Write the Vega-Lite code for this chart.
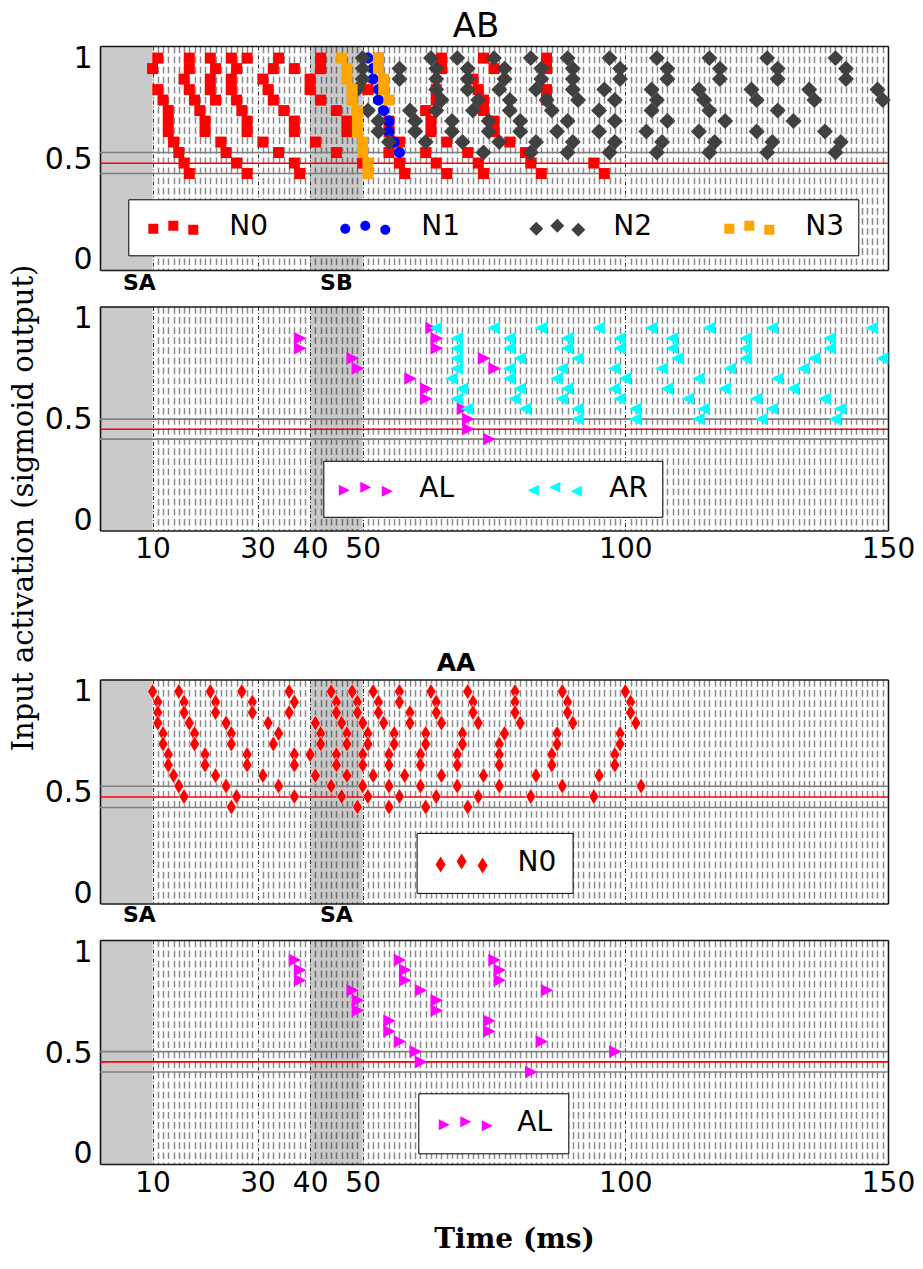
{
"$schema":"https://vega.github.io/schema/vega-lite/v6.json",
"background":"white",
"padding":{"left":8,"top":10,"right":0,"bottom":0},
"config":{"view":{"stroke":null},"font":"DejaVu Sans","axis":{"labelColor":"black","tickColor":"black","labelFont":"DejaVu Sans","domainColor":"#1a1a1a","domainWidth":1.6},"title":{"color":"black","font":"DejaVu Sans"}},
"datasets":{
"stim_ab":[{"stim":"SA","start":0,"end":10,"label_t":7.5},{"stim":"SB","start":40,"end":50,"label_t":45}],
"stim_aa":[{"stim":"SA","start":0,"end":10,"label_t":7.5},{"stim":"SA","start":40,"end":50,"label_t":45}],
"thr_ab1":[{"level":0.479,"kind":"threshold"},{"level":0.532,"kind":"bound"},{"level":0.428,"kind":"bound"}],
"thr_ab2":[{"level":0.452,"kind":"threshold"},{"level":0.502,"kind":"bound"},{"level":0.403,"kind":"bound"}],
"thr_aa1":[{"level":0.478,"kind":"threshold"},{"level":0.531,"kind":"bound"},{"level":0.426,"kind":"bound"}],
"thr_aa2":[{"level":0.456,"kind":"threshold"},{"level":0.507,"kind":"bound"},{"level":0.406,"kind":"bound"}],
"ab_neurons":[
{"time":11,"act":1,"series":"N0"},{"time":17,"act":1,"series":"N0"},{"time":21,"act":1,"series":"N0"},{"time":25,"act":1,"series":"N0"},{"time":28,"act":1,"series":"N0"},{"time":34,"act":1,"series":"N0"},{"time":42,"act":1,"series":"N0"},{"time":53,"act":1,"series":"N0"},{"time":65,"act":1,"series":"N0"},{"time":73,"act":1,"series":"N0"},{"time":85,"act":1,"series":"N0"},
{"time":10,"act":0.948,"series":"N0"},{"time":17,"act":0.948,"series":"N0"},{"time":22,"act":0.948,"series":"N0"},{"time":26,"act":0.948,"series":"N0"},{"time":33,"act":0.948,"series":"N0"},{"time":37,"act":0.948,"series":"N0"},{"time":42,"act":0.948,"series":"N0"},{"time":53,"act":0.948,"series":"N0"},{"time":65,"act":0.948,"series":"N0"},{"time":75,"act":0.948,"series":"N0"},{"time":85,"act":0.948,"series":"N0"},
{"time":16,"act":0.896,"series":"N0"},{"time":21,"act":0.896,"series":"N0"},{"time":25,"act":0.896,"series":"N0"},{"time":31,"act":0.896,"series":"N0"},{"time":40,"act":0.896,"series":"N0"},{"time":71,"act":0.896,"series":"N0"},
{"time":11,"act":0.844,"series":"N0"},{"time":17,"act":0.844,"series":"N0"},{"time":21,"act":0.844,"series":"N0"},{"time":25,"act":0.844,"series":"N0"},{"time":32,"act":0.844,"series":"N0"},{"time":40,"act":0.844,"series":"N0"},{"time":51,"act":0.844,"series":"N0"},{"time":64,"act":0.844,"series":"N0"},{"time":72,"act":0.844,"series":"N0"},{"time":85,"act":0.844,"series":"N0"},
{"time":12,"act":0.792,"series":"N0"},{"time":18,"act":0.792,"series":"N0"},{"time":22,"act":0.792,"series":"N0"},{"time":26,"act":0.792,"series":"N0"},{"time":33,"act":0.792,"series":"N0"},{"time":42,"act":0.792,"series":"N0"},{"time":64,"act":0.792,"series":"N0"},{"time":73,"act":0.792,"series":"N0"},{"time":85,"act":0.792,"series":"N0"},
{"time":13,"act":0.74,"series":"N0"},{"time":19,"act":0.74,"series":"N0"},{"time":27,"act":0.74,"series":"N0"},{"time":35,"act":0.74,"series":"N0"},{"time":45,"act":0.74,"series":"N0"},{"time":62,"act":0.74,"series":"N0"},{"time":73,"act":0.74,"series":"N0"},
{"time":13,"act":0.688,"series":"N0"},{"time":20,"act":0.688,"series":"N0"},{"time":28,"act":0.688,"series":"N0"},{"time":37,"act":0.688,"series":"N0"},{"time":47,"act":0.688,"series":"N0"},{"time":55,"act":0.688,"series":"N0"},{"time":63,"act":0.688,"series":"N0"},{"time":75,"act":0.688,"series":"N0"},
{"time":13,"act":0.636,"series":"N0"},{"time":20,"act":0.636,"series":"N0"},{"time":28,"act":0.636,"series":"N0"},{"time":37,"act":0.636,"series":"N0"},{"time":47,"act":0.636,"series":"N0"},{"time":55,"act":0.636,"series":"N0"},{"time":63,"act":0.636,"series":"N0"},{"time":75,"act":0.636,"series":"N0"},
{"time":14,"act":0.584,"series":"N0"},{"time":23,"act":0.584,"series":"N0"},{"time":31,"act":0.584,"series":"N0"},{"time":41,"act":0.584,"series":"N0"},{"time":57,"act":0.584,"series":"N0"},{"time":66,"act":0.584,"series":"N0"},{"time":78,"act":0.584,"series":"N0"},
{"time":15,"act":0.532,"series":"N0"},{"time":24,"act":0.532,"series":"N0"},{"time":34,"act":0.532,"series":"N0"},{"time":45,"act":0.532,"series":"N0"},{"time":55,"act":0.532,"series":"N0"},{"time":62,"act":0.532,"series":"N0"},{"time":70,"act":0.532,"series":"N0"},{"time":81,"act":0.532,"series":"N0"},
{"time":16,"act":0.48,"series":"N0"},{"time":26,"act":0.48,"series":"N0"},{"time":37,"act":0.48,"series":"N0"},{"time":50,"act":0.48,"series":"N0"},{"time":57,"act":0.48,"series":"N0"},{"time":64,"act":0.48,"series":"N0"},{"time":72,"act":0.48,"series":"N0"},{"time":82,"act":0.48,"series":"N0"},{"time":94,"act":0.48,"series":"N0"},
{"time":17,"act":0.428,"series":"N0"},{"time":28,"act":0.428,"series":"N0"},{"time":38,"act":0.428,"series":"N0"},{"time":58,"act":0.428,"series":"N0"},{"time":66,"act":0.428,"series":"N0"},{"time":73,"act":0.428,"series":"N0"},{"time":84,"act":0.428,"series":"N0"},{"time":96,"act":0.428,"series":"N0"},
{"time":51,"act":1,"series":"N1"},{"time":52,"act":0.948,"series":"N1"},{"time":52,"act":0.896,"series":"N1"},{"time":53,"act":0.844,"series":"N1"},{"time":53,"act":0.792,"series":"N1"},{"time":54,"act":0.74,"series":"N1"},{"time":55,"act":0.688,"series":"N1"},{"time":55,"act":0.636,"series":"N1"},{"time":56,"act":0.584,"series":"N1"},{"time":57,"act":0.532,"series":"N1"},
{"time":50,"act":1,"series":"N2"},{"time":63,"act":1,"series":"N2"},{"time":68,"act":1,"series":"N2"},{"time":75,"act":1,"series":"N2"},{"time":82,"act":1,"series":"N2"},{"time":89,"act":1,"series":"N2"},{"time":97,"act":1,"series":"N2"},{"time":106,"act":1,"series":"N2"},{"time":116,"act":1,"series":"N2"},{"time":127,"act":1,"series":"N2"},{"time":140,"act":1,"series":"N2"},
{"time":50,"act":0.948,"series":"N2"},{"time":57,"act":0.948,"series":"N2"},{"time":64,"act":0.948,"series":"N2"},{"time":70,"act":0.948,"series":"N2"},{"time":77,"act":0.948,"series":"N2"},{"time":84,"act":0.948,"series":"N2"},{"time":90,"act":0.948,"series":"N2"},{"time":99,"act":0.948,"series":"N2"},{"time":108,"act":0.948,"series":"N2"},{"time":118,"act":0.948,"series":"N2"},{"time":129,"act":0.948,"series":"N2"},{"time":142,"act":0.948,"series":"N2"},
{"time":50,"act":0.896,"series":"N2"},{"time":57,"act":0.896,"series":"N2"},{"time":64,"act":0.896,"series":"N2"},{"time":70,"act":0.896,"series":"N2"},{"time":77,"act":0.896,"series":"N2"},{"time":84,"act":0.896,"series":"N2"},{"time":90,"act":0.896,"series":"N2"},{"time":99,"act":0.896,"series":"N2"},{"time":108,"act":0.896,"series":"N2"},{"time":118,"act":0.896,"series":"N2"},{"time":129,"act":0.896,"series":"N2"},{"time":142,"act":0.896,"series":"N2"},
{"time":49,"act":0.844,"series":"N2"},{"time":64,"act":0.844,"series":"N2"},{"time":70,"act":0.844,"series":"N2"},{"time":76,"act":0.844,"series":"N2"},{"time":83,"act":0.844,"series":"N2"},{"time":90,"act":0.844,"series":"N2"},{"time":96,"act":0.844,"series":"N2"},{"time":105,"act":0.844,"series":"N2"},{"time":114,"act":0.844,"series":"N2"},{"time":124,"act":0.844,"series":"N2"},{"time":135,"act":0.844,"series":"N2"},{"time":148,"act":0.844,"series":"N2"},
{"time":65,"act":0.792,"series":"N2"},{"time":72,"act":0.792,"series":"N2"},{"time":78,"act":0.792,"series":"N2"},{"time":85,"act":0.792,"series":"N2"},{"time":91,"act":0.792,"series":"N2"},{"time":98,"act":0.792,"series":"N2"},{"time":106,"act":0.792,"series":"N2"},{"time":115,"act":0.792,"series":"N2"},{"time":125,"act":0.792,"series":"N2"},{"time":136,"act":0.792,"series":"N2"},{"time":149,"act":0.792,"series":"N2"},
{"time":51,"act":0.74,"series":"N2"},{"time":59,"act":0.74,"series":"N2"},{"time":64,"act":0.74,"series":"N2"},{"time":71,"act":0.74,"series":"N2"},{"time":78,"act":0.74,"series":"N2"},{"time":86,"act":0.74,"series":"N2"},{"time":95,"act":0.74,"series":"N2"},{"time":105,"act":0.74,"series":"N2"},{"time":116,"act":0.74,"series":"N2"},{"time":129,"act":0.74,"series":"N2"},
{"time":53,"act":0.688,"series":"N2"},{"time":60,"act":0.688,"series":"N2"},{"time":67,"act":0.688,"series":"N2"},{"time":74,"act":0.688,"series":"N2"},{"time":80,"act":0.688,"series":"N2"},{"time":89,"act":0.688,"series":"N2"},{"time":98,"act":0.688,"series":"N2"},{"time":108,"act":0.688,"series":"N2"},{"time":119,"act":0.688,"series":"N2"},{"time":132,"act":0.688,"series":"N2"},
{"time":53,"act":0.636,"series":"N2"},{"time":60,"act":0.636,"series":"N2"},{"time":67,"act":0.636,"series":"N2"},{"time":74,"act":0.636,"series":"N2"},{"time":80,"act":0.636,"series":"N2"},{"time":87,"act":0.636,"series":"N2"},{"time":95,"act":0.636,"series":"N2"},{"time":104,"act":0.636,"series":"N2"},{"time":114,"act":0.636,"series":"N2"},{"time":125,"act":0.636,"series":"N2"},{"time":138,"act":0.636,"series":"N2"},
{"time":55,"act":0.584,"series":"N2"},{"time":62,"act":0.584,"series":"N2"},{"time":69,"act":0.584,"series":"N2"},{"time":76,"act":0.584,"series":"N2"},{"time":83,"act":0.584,"series":"N2"},{"time":90,"act":0.584,"series":"N2"},{"time":98,"act":0.584,"series":"N2"},{"time":107,"act":0.584,"series":"N2"},{"time":117,"act":0.584,"series":"N2"},{"time":128,"act":0.584,"series":"N2"},{"time":141,"act":0.584,"series":"N2"},
{"time":73,"act":0.532,"series":"N2"},{"time":82,"act":0.532,"series":"N2"},{"time":89,"act":0.532,"series":"N2"},{"time":97,"act":0.532,"series":"N2"},{"time":106,"act":0.532,"series":"N2"},{"time":116,"act":0.532,"series":"N2"},{"time":127,"act":0.532,"series":"N2"},{"time":140,"act":0.532,"series":"N2"},
{"time":46,"act":1,"series":"N3"},{"time":47,"act":0.948,"series":"N3"},{"time":47,"act":0.896,"series":"N3"},{"time":48,"act":0.844,"series":"N3"},{"time":48,"act":0.792,"series":"N3"},{"time":49,"act":0.74,"series":"N3"},{"time":49,"act":0.688,"series":"N3"},{"time":49,"act":0.636,"series":"N3"},{"time":50,"act":0.584,"series":"N3"},{"time":50,"act":0.532,"series":"N3"},{"time":51,"act":0.48,"series":"N3"},{"time":51,"act":0.428,"series":"N3"},{"time":53,"act":1,"series":"N3"},{"time":53,"act":0.948,"series":"N3"},{"time":54,"act":0.896,"series":"N3"},{"time":54,"act":0.844,"series":"N3"},{"time":55,"act":0.792,"series":"N3"}
],
"ab_actions":[
{"time":38,"act":0.903,"series":"AL"},{"time":38,"act":0.853,"series":"AL"},{"time":48,"act":0.803,"series":"AL"},{"time":49,"act":0.753,"series":"AL"},{"time":59,"act":0.703,"series":"AL"},{"time":62,"act":0.653,"series":"AL"},{"time":62,"act":0.603,"series":"AL"},{"time":63,"act":0.953,"series":"AL"},{"time":64,"act":0.903,"series":"AL"},{"time":64,"act":0.853,"series":"AL"},{"time":69,"act":0.553,"series":"AL"},{"time":70,"act":0.503,"series":"AL"},{"time":70,"act":0.453,"series":"AL"},{"time":73,"act":0.803,"series":"AL"},{"time":75,"act":0.753,"series":"AL"},{"time":74,"act":0.403,"series":"AL"},
{"time":64,"act":0.953,"series":"AR"},{"time":75,"act":0.953,"series":"AR"},{"time":84,"act":0.953,"series":"AR"},{"time":95,"act":0.953,"series":"AR"},{"time":105,"act":0.953,"series":"AR"},{"time":116,"act":0.953,"series":"AR"},{"time":128,"act":0.953,"series":"AR"},{"time":147,"act":0.953,"series":"AR"},
{"time":68,"act":0.903,"series":"AR"},{"time":78,"act":0.903,"series":"AR"},{"time":89,"act":0.903,"series":"AR"},{"time":99,"act":0.903,"series":"AR"},{"time":109,"act":0.903,"series":"AR"},{"time":123,"act":0.903,"series":"AR"},{"time":139,"act":0.903,"series":"AR"},
{"time":68,"act":0.853,"series":"AR"},{"time":78,"act":0.853,"series":"AR"},{"time":89,"act":0.853,"series":"AR"},{"time":99,"act":0.853,"series":"AR"},{"time":109,"act":0.853,"series":"AR"},{"time":123,"act":0.853,"series":"AR"},{"time":139,"act":0.853,"series":"AR"},
{"time":68,"act":0.803,"series":"AR"},{"time":80,"act":0.803,"series":"AR"},{"time":91,"act":0.803,"series":"AR"},{"time":110,"act":0.803,"series":"AR"},{"time":123,"act":0.803,"series":"AR"},{"time":136,"act":0.803,"series":"AR"},{"time":149,"act":0.803,"series":"AR"},
{"time":68,"act":0.753,"series":"AR"},{"time":78,"act":0.753,"series":"AR"},{"time":88,"act":0.753,"series":"AR"},{"time":98,"act":0.753,"series":"AR"},{"time":107,"act":0.753,"series":"AR"},{"time":120,"act":0.753,"series":"AR"},{"time":134,"act":0.753,"series":"AR"},
{"time":67,"act":0.703,"series":"AR"},{"time":78,"act":0.703,"series":"AR"},{"time":87,"act":0.703,"series":"AR"},{"time":100,"act":0.703,"series":"AR"},{"time":114,"act":0.703,"series":"AR"},{"time":129,"act":0.703,"series":"AR"},
{"time":69,"act":0.653,"series":"AR"},{"time":80,"act":0.653,"series":"AR"},{"time":89,"act":0.653,"series":"AR"},{"time":98,"act":0.653,"series":"AR"},{"time":108,"act":0.653,"series":"AR"},{"time":119,"act":0.653,"series":"AR"},{"time":132,"act":0.653,"series":"AR"},
{"time":68,"act":0.603,"series":"AR"},{"time":79,"act":0.603,"series":"AR"},{"time":88,"act":0.603,"series":"AR"},{"time":99,"act":0.603,"series":"AR"},{"time":112,"act":0.603,"series":"AR"},{"time":125,"act":0.603,"series":"AR"},{"time":138,"act":0.603,"series":"AR"},
{"time":70,"act":0.553,"series":"AR"},{"time":81,"act":0.553,"series":"AR"},{"time":91,"act":0.553,"series":"AR"},{"time":102,"act":0.553,"series":"AR"},{"time":115,"act":0.553,"series":"AR"},{"time":128,"act":0.553,"series":"AR"},{"time":141,"act":0.553,"series":"AR"},
{"time":91,"act":0.503,"series":"AR"},{"time":102,"act":0.503,"series":"AR"},{"time":114,"act":0.503,"series":"AR"},{"time":126,"act":0.503,"series":"AR"},{"time":140,"act":0.503,"series":"AR"}
],
"aa_neurons":[
{"time":10,"act":1,"series":"N0"},{"time":15,"act":1,"series":"N0"},{"time":21,"act":1,"series":"N0"},{"time":27,"act":1,"series":"N0"},{"time":36,"act":1,"series":"N0"},{"time":44,"act":1,"series":"N0"},{"time":48,"act":1,"series":"N0"},{"time":52,"act":1,"series":"N0"},{"time":57,"act":1,"series":"N0"},{"time":63,"act":1,"series":"N0"},{"time":70,"act":1,"series":"N0"},{"time":79,"act":1,"series":"N0"},{"time":88,"act":1,"series":"N0"},{"time":100,"act":1,"series":"N0"},
{"time":11,"act":0.948,"series":"N0"},{"time":16,"act":0.948,"series":"N0"},{"time":22,"act":0.948,"series":"N0"},{"time":29,"act":0.948,"series":"N0"},{"time":37,"act":0.948,"series":"N0"},{"time":45,"act":0.948,"series":"N0"},{"time":49,"act":0.948,"series":"N0"},{"time":53,"act":0.948,"series":"N0"},{"time":57,"act":0.948,"series":"N0"},{"time":64,"act":0.948,"series":"N0"},{"time":71,"act":0.948,"series":"N0"},{"time":79,"act":0.948,"series":"N0"},{"time":89,"act":0.948,"series":"N0"},{"time":101,"act":0.948,"series":"N0"},
{"time":11,"act":0.896,"series":"N0"},{"time":16,"act":0.896,"series":"N0"},{"time":22,"act":0.896,"series":"N0"},{"time":29,"act":0.896,"series":"N0"},{"time":36,"act":0.896,"series":"N0"},{"time":45,"act":0.896,"series":"N0"},{"time":49,"act":0.896,"series":"N0"},{"time":53,"act":0.896,"series":"N0"},{"time":59,"act":0.896,"series":"N0"},{"time":64,"act":0.896,"series":"N0"},{"time":71,"act":0.896,"series":"N0"},{"time":79,"act":0.896,"series":"N0"},{"time":89,"act":0.896,"series":"N0"},{"time":101,"act":0.896,"series":"N0"},
{"time":11,"act":0.844,"series":"N0"},{"time":17,"act":0.844,"series":"N0"},{"time":24,"act":0.844,"series":"N0"},{"time":32,"act":0.844,"series":"N0"},{"time":41,"act":0.844,"series":"N0"},{"time":46,"act":0.844,"series":"N0"},{"time":50,"act":0.844,"series":"N0"},{"time":54,"act":0.844,"series":"N0"},{"time":59,"act":0.844,"series":"N0"},{"time":65,"act":0.844,"series":"N0"},{"time":72,"act":0.844,"series":"N0"},{"time":80,"act":0.844,"series":"N0"},{"time":90,"act":0.844,"series":"N0"},{"time":102,"act":0.844,"series":"N0"},
{"time":12,"act":0.792,"series":"N0"},{"time":18,"act":0.792,"series":"N0"},{"time":25,"act":0.792,"series":"N0"},{"time":34,"act":0.792,"series":"N0"},{"time":42,"act":0.792,"series":"N0"},{"time":47,"act":0.792,"series":"N0"},{"time":51,"act":0.792,"series":"N0"},{"time":56,"act":0.792,"series":"N0"},{"time":62,"act":0.792,"series":"N0"},{"time":69,"act":0.792,"series":"N0"},{"time":77,"act":0.792,"series":"N0"},{"time":87,"act":0.792,"series":"N0"},{"time":99,"act":0.792,"series":"N0"},
{"time":12,"act":0.74,"series":"N0"},{"time":18,"act":0.74,"series":"N0"},{"time":25,"act":0.74,"series":"N0"},{"time":33,"act":0.74,"series":"N0"},{"time":42,"act":0.74,"series":"N0"},{"time":47,"act":0.74,"series":"N0"},{"time":51,"act":0.74,"series":"N0"},{"time":56,"act":0.74,"series":"N0"},{"time":62,"act":0.74,"series":"N0"},{"time":69,"act":0.74,"series":"N0"},{"time":76,"act":0.74,"series":"N0"},{"time":87,"act":0.74,"series":"N0"},{"time":99,"act":0.74,"series":"N0"},
{"time":13,"act":0.688,"series":"N0"},{"time":20,"act":0.688,"series":"N0"},{"time":28,"act":0.688,"series":"N0"},{"time":37,"act":0.688,"series":"N0"},{"time":40,"act":0.688,"series":"N0"},{"time":45,"act":0.688,"series":"N0"},{"time":50,"act":0.688,"series":"N0"},{"time":55,"act":0.688,"series":"N0"},{"time":61,"act":0.688,"series":"N0"},{"time":68,"act":0.688,"series":"N0"},{"time":76,"act":0.688,"series":"N0"},{"time":86,"act":0.688,"series":"N0"},{"time":98,"act":0.688,"series":"N0"},
{"time":13,"act":0.636,"series":"N0"},{"time":20,"act":0.636,"series":"N0"},{"time":28,"act":0.636,"series":"N0"},{"time":37,"act":0.636,"series":"N0"},{"time":45,"act":0.636,"series":"N0"},{"time":50,"act":0.636,"series":"N0"},{"time":55,"act":0.636,"series":"N0"},{"time":61,"act":0.636,"series":"N0"},{"time":68,"act":0.636,"series":"N0"},{"time":76,"act":0.636,"series":"N0"},{"time":86,"act":0.636,"series":"N0"},{"time":98,"act":0.636,"series":"N0"},
{"time":14,"act":0.584,"series":"N0"},{"time":22,"act":0.584,"series":"N0"},{"time":31,"act":0.584,"series":"N0"},{"time":41,"act":0.584,"series":"N0"},{"time":47,"act":0.584,"series":"N0"},{"time":52,"act":0.584,"series":"N0"},{"time":58,"act":0.584,"series":"N0"},{"time":65,"act":0.584,"series":"N0"},{"time":73,"act":0.584,"series":"N0"},{"time":83,"act":0.584,"series":"N0"},{"time":95,"act":0.584,"series":"N0"},
{"time":15,"act":0.532,"series":"N0"},{"time":24,"act":0.532,"series":"N0"},{"time":34,"act":0.532,"series":"N0"},{"time":44,"act":0.532,"series":"N0"},{"time":50,"act":0.532,"series":"N0"},{"time":55,"act":0.532,"series":"N0"},{"time":61,"act":0.532,"series":"N0"},{"time":68,"act":0.532,"series":"N0"},{"time":76,"act":0.532,"series":"N0"},{"time":88,"act":0.532,"series":"N0"},{"time":103,"act":0.532,"series":"N0"},
{"time":16,"act":0.48,"series":"N0"},{"time":26,"act":0.48,"series":"N0"},{"time":37,"act":0.48,"series":"N0"},{"time":46,"act":0.48,"series":"N0"},{"time":51,"act":0.48,"series":"N0"},{"time":57,"act":0.48,"series":"N0"},{"time":64,"act":0.48,"series":"N0"},{"time":72,"act":0.48,"series":"N0"},{"time":82,"act":0.48,"series":"N0"},{"time":94,"act":0.48,"series":"N0"},
{"time":25,"act":0.428,"series":"N0"},{"time":49,"act":0.428,"series":"N0"},{"time":55,"act":0.428,"series":"N0"},{"time":62,"act":0.428,"series":"N0"},{"time":70,"act":0.428,"series":"N0"}
],
"aa_actions":[
{"time":37,"act":0.961,"series":"AL"},{"time":38,"act":0.911,"series":"AL"},{"time":38,"act":0.861,"series":"AL"},{"time":48,"act":0.811,"series":"AL"},{"time":49,"act":0.761,"series":"AL"},{"time":49,"act":0.711,"series":"AL"},{"time":57,"act":0.961,"series":"AL"},{"time":58,"act":0.911,"series":"AL"},{"time":58,"act":0.861,"series":"AL"},{"time":61,"act":0.811,"series":"AL"},{"time":64,"act":0.761,"series":"AL"},{"time":64,"act":0.711,"series":"AL"},{"time":55,"act":0.66,"series":"AL"},{"time":55,"act":0.608,"series":"AL"},{"time":57,"act":0.557,"series":"AL"},{"time":60,"act":0.507,"series":"AL"},{"time":61,"act":0.456,"series":"AL"},{"time":75,"act":0.961,"series":"AL"},{"time":76,"act":0.911,"series":"AL"},{"time":76,"act":0.861,"series":"AL"},{"time":74,"act":0.66,"series":"AL"},{"time":74,"act":0.608,"series":"AL"},{"time":85,"act":0.811,"series":"AL"},{"time":84,"act":0.557,"series":"AL"},{"time":98,"act":0.507,"series":"AL"},{"time":82,"act":0.406,"series":"AL"}
]
},
"spacing":36.5,
"bounds":"flush",
"resolve":{"scale":{"color":"independent","shape":"independent","stroke":"independent","x":"independent","y":"independent"}},
"vconcat":[
 {"width":788,"height":224,
  "title":{"text":"AB","fontSize":34,"fontWeight":"normal","dx":-18,"offset":-11},
  "resolve":{"axis":{"x":"independent","y":"independent"}},
  "layer":[
   {"data":{"name":"stim_ab"},"mark":{"type":"rect","color":"#000000","opacity":0.21},
    "encoding":{"x":{"field":"start","type":"quantitative","scale":{"domain":[0,150],"nice":false,"zero":false},
      "axis":{"orient":"top","values":[5,10,15,20,25,30,35,40,45,50,55,60,65,70,75,80,85,90,95,100,105,110,115,120,125,130,135,140,145],"title":null,"labels":false,"domain":true,"grid":false,"tickSize":0,"encode":{"ticks":{"y2":{"value":{"expr":"indexof([10,30,40,50,100],datum.value)>=0?7:5"}}}}}},
     "x2":{"field":"end"}}},
   {"data":{"name":"thr_ab1"},"mark":{"type":"rule","strokeWidth":1.6},
    "encoding":{"y":{"field":"level","type":"quantitative","scale":{"domain":[-0.05,1.06],"nice":false,"zero":false},
      "axis":{"orient":"right","values":[0,0.05,0.1,0.15,0.2,0.25,0.3,0.35,0.4,0.45,0.5,0.55,0.6,0.65,0.7,0.75,0.8,0.85,0.9,0.95,1,1.05],"title":null,"labels":false,"domain":true,"grid":false,"tickSize":0,"encode":{"ticks":{"x2":{"value":-5}}}}},
     "stroke":{"field":"kind","type":"nominal","scale":{"domain":["threshold","bound"],"range":["#ff0000","#808080"]},"legend":null}}},
   {"data":{"name":"ab_neurons"},"mark":{"type":"point","filled":true,"size":121,"opacity":1,"strokeWidth":0},
    "encoding":{
     "x":{"field":"time","type":"quantitative","scale":{"domain":[0,150],"nice":false,"zero":false},
      "axis":{"orient":"bottom","values":[5,10,11,12,13,14,15,16,17,18,19,20,21,22,23,24,25,26,27,28,29,30,31,32,33,34,35,36,37,38,39,40,41,42,43,44,45,46,47,48,49,50,51,52,53,54,55,56,57,58,59,60,61,62,63,64,65,66,67,68,69,70,71,72,73,74,75,76,77,78,79,80,81,82,83,84,85,86,87,88,89,90,91,92,93,94,95,96,97,98,99,100,101,102,103,104,105,106,107,108,109,110,111,112,113,114,115,116,117,118,119,120,121,122,123,124,125,126,127,128,129,130,131,132,133,134,135,136,137,138,139,140,141,142,143,144,145,146,147,148,149,150],"title":null,"labels":false,"domain":true,"tickSize":0,"grid":true,
       "gridColor":{"condition":{"test":"indexof([10,30,40,50,100,150],datum.value)>=0","value":"#000000"},"value":"#8a8a8a"},
       "gridDash":{"condition":{"test":"indexof([10,30,40,50,100,150],datum.value)>=0","value":[4,2,1,2]},"value":[6.7,3.39]},
       "gridWidth":{"condition":{"test":"indexof([10,30,40,50,100,150],datum.value)>=0","value":0.8},"value":1.5},
       "gridOpacity":{"condition":{"test":"datum.value<10","value":0},"value":1},
       "encode":{"ticks":{"y2":{"value":{"expr":"indexof([10,30,40,50,100,150],datum.value)>=0?-7:(datum.value%5===0?-5:0)"}}}}}},
     "y":{"field":"act","type":"quantitative","scale":{"domain":[-0.05,1.06],"nice":false,"zero":false},
      "axis":{"orient":"left","values":[0,0.05,0.1,0.15,0.2,0.25,0.3,0.35,0.4,0.45,0.5,0.55,0.6,0.65,0.7,0.75,0.8,0.85,0.9,0.95,1,1.05],"title":null,"grid":false,"domain":true,"tickSize":0,"labelExpr":"datum.value===0?'0':datum.value===0.5?'0.5':datum.value===1?'1':''","labelFontSize":30,"labelPadding":8,"labelOverlap":false,"labelFlush":false,"labelBound":false,"labelBaseline":"middle",
       "encode":{"ticks":{"x2":{"value":{"expr":"indexof([0,0.5,1],datum.value)>=0?7:5"}},"strokeWidth":{"value":{"expr":"indexof([0,0.5,1],datum.value)>=0?2.5:1"}}}}}},
     "color":{"field":"series","type":"nominal","scale":{"domain":["N0","N1","N2","N3"],"range":["#ff0000","#0000ff","#404040","#ffa500"]},
      "legend":{"orient":"none","legendX":28.3,"legendY":153.3,"direction":"horizontal","columns":4,"columnPadding":66,"title":null,"padding":14,"fillColor":"white","strokeColor":"black","labelFontSize":28,"labelColor":"black","labelOffset":42,"symbolOffset":17,"symbolSize":100,"symbolOpacity":1,"symbolStrokeWidth":0}},
     "shape":{"condition":[{"test":"datum.series==='N1'","value":"M-1,0a1,1 0 1,0 2,0a1,1 0 1,0 -2,0z"},{"test":"datum.series==='N2'","value":"M0,-1.45L1.45,0L0,1.45L-1.45,0Z"}],"value":"M-1,-1h2v2h-2z"}}},
   {"data":{"name":"ab_neurons"},"transform":[{"filter":"false"}],"mark":{"type":"point","filled":true,"size":100,"opacity":1,"strokeWidth":0},
    "encoding":{
     "color":{"field":"series","type":"nominal","scale":{"domain":["N0","N1","N2","N3"],"range":["#ff0000","#0000ff","#404040","#ffa500"]},
      "legend":{"orient":"none","legendX":28.3,"legendY":153.3,"direction":"horizontal","columns":4,"columnPadding":66,"title":null,"padding":14,"fillColor":"white","strokeColor":"black","labelFontSize":28,"labelColor":"black","labelOffset":42,"symbolOffset":17,"symbolSize":100,"symbolOpacity":1,"symbolStrokeWidth":0}},
     "shape":{"field":"series","type":"nominal","scale":{"domain":["N0","N1","N2","N3"],"range":["M-5,-0.7h2v2h-2zM-1,-1.3h2v2h-2zM3,-0.5h2v2h-2z","M-5,0.3a1,1 0 1,0 2,0a1,1 0 1,0 -2,0zM-1,-0.3a1,1 0 1,0 2,0a1,1 0 1,0 -2,0zM3,0.5a1,1 0 1,0 2,0a1,1 0 1,0 -2,0z","M-4.2,-1.1L-2.8,0.3L-4.2,1.7L-5.6,0.3ZM0,-1.7L1.4,-0.3L0,1.1L-1.4,-0.3ZM4.2,-0.9L5.6,0.5L4.2,1.9L2.8,0.5Z","M-5,-0.7h2v2h-2zM-1,-1.3h2v2h-2zM3,-0.5h2v2h-2z"]},"legend":null}}},
   {"data":{"name":"stim_ab"},"mark":{"type":"text","fontSize":22,"fontWeight":"bold","baseline":"middle","align":"center","clip":false,"color":"black"},
    "encoding":{"x":{"field":"label_t","type":"quantitative","scale":{"domain":[0,150],"nice":false,"zero":false},"axis":null},"y":{"datum":-0.112,"type":"quantitative","scale":{"domain":[-0.05,1.06],"nice":false,"zero":false},"axis":null},"text":{"field":"stim"}}}
  ]},
 {"width":788,"height":224,
  "resolve":{"axis":{"x":"independent","y":"independent"}},
  "layer":[
   {"data":{"name":"stim_ab"},"mark":{"type":"rect","color":"#000000","opacity":0.21},
    "encoding":{"x":{"field":"start","type":"quantitative","scale":{"domain":[0,150],"nice":false,"zero":false},
      "axis":{"orient":"top","values":[5,10,15,20,25,30,35,40,45,50,55,60,65,70,75,80,85,90,95,100,105,110,115,120,125,130,135,140,145],"title":null,"labels":false,"domain":true,"grid":false,"tickSize":0,"encode":{"ticks":{"y2":{"value":{"expr":"indexof([10,30,40,50,100],datum.value)>=0?7:5"}}}}}},
     "x2":{"field":"end"}}},
   {"data":{"name":"thr_ab2"},"mark":{"type":"rule","strokeWidth":1.6},
    "encoding":{"y":{"field":"level","type":"quantitative","scale":{"domain":[-0.05,1.06],"nice":false,"zero":false},
      "axis":{"orient":"right","values":[0,0.05,0.1,0.15,0.2,0.25,0.3,0.35,0.4,0.45,0.5,0.55,0.6,0.65,0.7,0.75,0.8,0.85,0.9,0.95,1,1.05],"title":null,"labels":false,"domain":true,"grid":false,"tickSize":0,"encode":{"ticks":{"x2":{"value":-5}}}}},
     "stroke":{"field":"kind","type":"nominal","scale":{"domain":["threshold","bound"],"range":["#ff0000","#808080"]},"legend":null}}},
   {"data":{"name":"ab_actions"},"mark":{"type":"point","filled":true,"size":130,"opacity":1,"strokeWidth":0},
    "encoding":{
     "x":{"field":"time","type":"quantitative","scale":{"domain":[0,150],"nice":false,"zero":false},
      "axis":{"orient":"bottom","values":[5,10,11,12,13,14,15,16,17,18,19,20,21,22,23,24,25,26,27,28,29,30,31,32,33,34,35,36,37,38,39,40,41,42,43,44,45,46,47,48,49,50,51,52,53,54,55,56,57,58,59,60,61,62,63,64,65,66,67,68,69,70,71,72,73,74,75,76,77,78,79,80,81,82,83,84,85,86,87,88,89,90,91,92,93,94,95,96,97,98,99,100,101,102,103,104,105,106,107,108,109,110,111,112,113,114,115,116,117,118,119,120,121,122,123,124,125,126,127,128,129,130,131,132,133,134,135,136,137,138,139,140,141,142,143,144,145,146,147,148,149,150],"title":null,"labels":true,"labelExpr":"indexof([10,30,40,50,100,150],datum.value)>=0?datum.label:''","labelFontSize":28,"labelPadding":5,"labelBaseline":"top","labelOverlap":false,"labelFlush":false,"labelBound":false,"domain":true,"tickSize":0,"grid":true,
       "gridColor":{"condition":{"test":"indexof([10,30,40,50,100,150],datum.value)>=0","value":"#000000"},"value":"#8a8a8a"},
       "gridDash":{"condition":{"test":"indexof([10,30,40,50,100,150],datum.value)>=0","value":[4,2,1,2]},"value":[6.7,3.39]},
       "gridWidth":{"condition":{"test":"indexof([10,30,40,50,100,150],datum.value)>=0","value":0.8},"value":1.5},
       "gridOpacity":{"condition":{"test":"datum.value<10","value":0},"value":1},
       "encode":{"ticks":{"y2":{"value":{"expr":"indexof([10,30,40,50,100,150],datum.value)>=0?-7:(datum.value%5===0?-5:0)"}}}}}},
     "y":{"field":"act","type":"quantitative","scale":{"domain":[-0.05,1.06],"nice":false,"zero":false},
      "axis":{"orient":"left","values":[0,0.05,0.1,0.15,0.2,0.25,0.3,0.35,0.4,0.45,0.5,0.55,0.6,0.65,0.7,0.75,0.8,0.85,0.9,0.95,1,1.05],"title":"Input activation (sigmoid output)","titleFont":"DejaVu Serif","titleFontSize":29,"titleFontWeight":"normal","titleColor":"black","titleAngle":-90,"titleX":-77,"titleY":201,"titleAlign":"center","titleBaseline":"middle","grid":false,"domain":true,"tickSize":0,"labelExpr":"datum.value===0?'0':datum.value===0.5?'0.5':datum.value===1?'1':''","labelFontSize":30,"labelPadding":8,"labelOverlap":false,"labelFlush":false,"labelBound":false,"labelBaseline":"middle",
       "encode":{"ticks":{"x2":{"value":{"expr":"indexof([0,0.5,1],datum.value)>=0?7:5"}},"strokeWidth":{"value":{"expr":"indexof([0,0.5,1],datum.value)>=0?2.5:1"}}}}}},
     "color":{"field":"series","type":"nominal","scale":{"domain":["AL","AR"],"range":["#ff00ff","#00ffff"]},
      "legend":{"orient":"none","legendX":223.3,"legendY":154.3,"direction":"horizontal","columns":2,"columnPadding":73,"title":null,"padding":14,"fillColor":"white","strokeColor":"black","labelFontSize":28,"labelColor":"black","labelOffset":40,"symbolOffset":14,"symbolSize":100,"symbolOpacity":1,"symbolStrokeWidth":0}},
     "shape":{"condition":{"test":"datum.series==='AL'","value":"M-1,-1.1L1.2,0L-1,1.1Z"},"value":"M1,-1.1L-1.2,0L1,1.1Z"}}},
   {"data":{"name":"ab_actions"},"transform":[{"filter":"false"}],"mark":{"type":"point","filled":true,"size":100,"opacity":1,"strokeWidth":0},
    "encoding":{
     "color":{"field":"series","type":"nominal","scale":{"domain":["AL","AR"],"range":["#ff00ff","#00ffff"]},
      "legend":{"orient":"none","legendX":223.3,"legendY":154.3,"direction":"horizontal","columns":2,"columnPadding":73,"title":null,"padding":14,"fillColor":"white","strokeColor":"black","labelFontSize":28,"labelColor":"black","labelOffset":40,"symbolOffset":14,"symbolSize":100,"symbolOpacity":1,"symbolStrokeWidth":0}},
     "shape":{"field":"series","type":"nominal","scale":{"domain":["AL","AR"],"range":["M-5.3,-0.8L-3.1,0.3L-5.3,1.4ZM-1,-1.4L1.2,-0.3L-1,0.8ZM3.3,-0.6L5.5,0.5L3.3,1.6Z","M-3.3,-0.8L-5.5,0.3L-3.3,1.4ZM1,-1.4L-1.2,-0.3L1,0.8ZM5.3,-0.6L3.1,0.5L5.3,1.6Z"]},"legend":null}}}
  ]},
 {"width":788,"height":75.6,"data":{"values":[{"t":0}]},"mark":{"type":"point","opacity":0},"encoding":{"x":{"field":"t","type":"quantitative","axis":null},"y":{"field":"t","type":"quantitative","axis":null}}},
 {"width":788,"height":224,
  "title":{"text":"AA","fontSize":25,"fontWeight":"bold","dx":-38,"offset":-9},
  "resolve":{"axis":{"x":"independent","y":"independent"}},
  "layer":[
   {"data":{"name":"stim_aa"},"mark":{"type":"rect","color":"#000000","opacity":0.21},
    "encoding":{"x":{"field":"start","type":"quantitative","scale":{"domain":[0,150],"nice":false,"zero":false},
      "axis":{"orient":"top","values":[5,10,15,20,25,30,35,40,45,50,55,60,65,70,75,80,85,90,95,100,105,110,115,120,125,130,135,140,145],"title":null,"labels":false,"domain":true,"grid":false,"tickSize":0,"encode":{"ticks":{"y2":{"value":{"expr":"indexof([10,30,40,50,100],datum.value)>=0?7:5"}}}}}},
     "x2":{"field":"end"}}},
   {"data":{"name":"thr_aa1"},"mark":{"type":"rule","strokeWidth":1.6},
    "encoding":{"y":{"field":"level","type":"quantitative","scale":{"domain":[-0.05,1.06],"nice":false,"zero":false},
      "axis":{"orient":"right","values":[0,0.05,0.1,0.15,0.2,0.25,0.3,0.35,0.4,0.45,0.5,0.55,0.6,0.65,0.7,0.75,0.8,0.85,0.9,0.95,1,1.05],"title":null,"labels":false,"domain":true,"grid":false,"tickSize":0,"encode":{"ticks":{"x2":{"value":-5}}}}},
     "stroke":{"field":"kind","type":"nominal","scale":{"domain":["threshold","bound"],"range":["#ff0000","#808080"]},"legend":null}}},
   {"data":{"name":"aa_neurons"},"mark":{"type":"point","filled":true,"size":100,"opacity":1,"stroke":"white","strokeWidth":0.6,"shape":"M0,-1.6L1,0L0,1.6L-1,0Z"},
    "encoding":{
     "x":{"field":"time","type":"quantitative","scale":{"domain":[0,150],"nice":false,"zero":false},
      "axis":{"orient":"bottom","values":[5,10,11,12,13,14,15,16,17,18,19,20,21,22,23,24,25,26,27,28,29,30,31,32,33,34,35,36,37,38,39,40,41,42,43,44,45,46,47,48,49,50,51,52,53,54,55,56,57,58,59,60,61,62,63,64,65,66,67,68,69,70,71,72,73,74,75,76,77,78,79,80,81,82,83,84,85,86,87,88,89,90,91,92,93,94,95,96,97,98,99,100,101,102,103,104,105,106,107,108,109,110,111,112,113,114,115,116,117,118,119,120,121,122,123,124,125,126,127,128,129,130,131,132,133,134,135,136,137,138,139,140,141,142,143,144,145,146,147,148,149,150],"title":null,"labels":false,"domain":true,"tickSize":0,"grid":true,
       "gridColor":{"condition":{"test":"indexof([10,30,40,50,100,150],datum.value)>=0","value":"#000000"},"value":"#8a8a8a"},
       "gridDash":{"condition":{"test":"indexof([10,30,40,50,100,150],datum.value)>=0","value":[4,2,1,2]},"value":[6.7,3.39]},
       "gridWidth":{"condition":{"test":"indexof([10,30,40,50,100,150],datum.value)>=0","value":0.8},"value":1.5},
       "gridOpacity":{"condition":{"test":"datum.value<10","value":0},"value":1},
       "encode":{"ticks":{"y2":{"value":{"expr":"indexof([10,30,40,50,100,150],datum.value)>=0?-7:(datum.value%5===0?-5:0)"}}}}}},
     "y":{"field":"act","type":"quantitative","scale":{"domain":[-0.05,1.06],"nice":false,"zero":false},
      "axis":{"orient":"left","values":[0,0.05,0.1,0.15,0.2,0.25,0.3,0.35,0.4,0.45,0.5,0.55,0.6,0.65,0.7,0.75,0.8,0.85,0.9,0.95,1,1.05],"title":null,"grid":false,"domain":true,"tickSize":0,"labelExpr":"datum.value===0?'0':datum.value===0.5?'0.5':datum.value===1?'1':''","labelFontSize":30,"labelPadding":8,"labelOverlap":false,"labelFlush":false,"labelBound":false,"labelBaseline":"middle",
       "encode":{"ticks":{"x2":{"value":{"expr":"indexof([0,0.5,1],datum.value)>=0?7:5"}},"strokeWidth":{"value":{"expr":"indexof([0,0.5,1],datum.value)>=0?2.5:1"}}}}}},
     "color":{"field":"series","type":"nominal","scale":{"domain":["N0"],"range":["#ff0000"]},
      "legend":{"orient":"none","legendX":316.6,"legendY":153.4,"direction":"horizontal","columns":1,"title":null,"padding":16,"fillColor":"white","strokeColor":"black","labelFontSize":28,"labelColor":"black","labelOffset":42,"symbolOffset":15,"symbolSize":100,"symbolOpacity":1,"symbolStrokeWidth":0}}}},
   {"data":{"name":"aa_neurons"},"transform":[{"filter":"false"}],"mark":{"type":"point","filled":true,"size":100,"opacity":1,"strokeWidth":0},
    "encoding":{
     "color":{"field":"series","type":"nominal","scale":{"domain":["N0"],"range":["#ff0000"]},
      "legend":{"orient":"none","legendX":316.6,"legendY":153.4,"direction":"horizontal","columns":1,"title":null,"padding":16,"fillColor":"white","strokeColor":"black","labelFontSize":28,"labelColor":"black","labelOffset":42,"symbolOffset":15,"symbolSize":100,"symbolOpacity":1,"symbolStrokeWidth":0}},
     "shape":{"field":"series","type":"nominal","scale":{"domain":["N0"],"range":["M-4.2,-1.3L-3.2,0.3L-4.2,1.9L-5.2,0.3ZM0,-1.9L1,-0.3L0,1.3L-1,-0.3ZM4.2,-1.1L5.2,0.5L4.2,2.1L3.2,0.5Z"]},"legend":null}}},
   {"data":{"name":"stim_aa"},"mark":{"type":"text","fontSize":22,"fontWeight":"bold","baseline":"middle","align":"center","clip":false,"color":"black"},
    "encoding":{"x":{"field":"label_t","type":"quantitative","scale":{"domain":[0,150],"nice":false,"zero":false},"axis":null},"y":{"datum":-0.108,"type":"quantitative","scale":{"domain":[-0.05,1.06],"nice":false,"zero":false},"axis":null},"text":{"field":"stim"}}}
  ]},
 {"width":788,"height":224,
  "resolve":{"axis":{"x":"independent","y":"independent"}},
  "layer":[
   {"data":{"name":"stim_aa"},"mark":{"type":"rect","color":"#000000","opacity":0.21},
    "encoding":{"x":{"field":"start","type":"quantitative","scale":{"domain":[0,150],"nice":false,"zero":false},
      "axis":{"orient":"top","values":[5,10,15,20,25,30,35,40,45,50,55,60,65,70,75,80,85,90,95,100,105,110,115,120,125,130,135,140,145],"title":null,"labels":false,"domain":true,"grid":false,"tickSize":0,"encode":{"ticks":{"y2":{"value":{"expr":"indexof([10,30,40,50,100],datum.value)>=0?7:5"}}}}}},
     "x2":{"field":"end"}}},
   {"data":{"name":"thr_aa2"},"mark":{"type":"rule","strokeWidth":1.6},
    "encoding":{"y":{"field":"level","type":"quantitative","scale":{"domain":[-0.05,1.06],"nice":false,"zero":false},
      "axis":{"orient":"right","values":[0,0.05,0.1,0.15,0.2,0.25,0.3,0.35,0.4,0.45,0.5,0.55,0.6,0.65,0.7,0.75,0.8,0.85,0.9,0.95,1,1.05],"title":null,"labels":false,"domain":true,"grid":false,"tickSize":0,"encode":{"ticks":{"x2":{"value":-5}}}}},
     "stroke":{"field":"kind","type":"nominal","scale":{"domain":["threshold","bound"],"range":["#ff0000","#808080"]},"legend":null}}},
   {"data":{"name":"aa_actions"},"mark":{"type":"point","filled":true,"size":130,"opacity":1,"strokeWidth":0,"shape":"M-1,-1.1L1.2,0L-1,1.1Z"},
    "encoding":{
     "x":{"field":"time","type":"quantitative","scale":{"domain":[0,150],"nice":false,"zero":false},
      "axis":{"orient":"bottom","values":[5,10,11,12,13,14,15,16,17,18,19,20,21,22,23,24,25,26,27,28,29,30,31,32,33,34,35,36,37,38,39,40,41,42,43,44,45,46,47,48,49,50,51,52,53,54,55,56,57,58,59,60,61,62,63,64,65,66,67,68,69,70,71,72,73,74,75,76,77,78,79,80,81,82,83,84,85,86,87,88,89,90,91,92,93,94,95,96,97,98,99,100,101,102,103,104,105,106,107,108,109,110,111,112,113,114,115,116,117,118,119,120,121,122,123,124,125,126,127,128,129,130,131,132,133,134,135,136,137,138,139,140,141,142,143,144,145,146,147,148,149,150],"title":"Time (ms)","titleFont":"DejaVu Serif","titleFontSize":28,"titleFontWeight":"bold","titleColor":"black","titleX":414,"titleY":75,"titleAlign":"center","titleBaseline":"middle","labels":true,"labelExpr":"indexof([10,30,40,50,100,150],datum.value)>=0?datum.label:''","labelFontSize":28,"labelPadding":5,"labelBaseline":"top","labelOverlap":false,"labelFlush":false,"labelBound":false,"domain":true,"tickSize":0,"grid":true,
       "gridColor":{"condition":{"test":"indexof([10,30,40,50,100,150],datum.value)>=0","value":"#000000"},"value":"#8a8a8a"},
       "gridDash":{"condition":{"test":"indexof([10,30,40,50,100,150],datum.value)>=0","value":[4,2,1,2]},"value":[6.7,3.39]},
       "gridWidth":{"condition":{"test":"indexof([10,30,40,50,100,150],datum.value)>=0","value":0.8},"value":1.5},
       "gridOpacity":{"condition":{"test":"datum.value<10","value":0},"value":1},
       "encode":{"ticks":{"y2":{"value":{"expr":"indexof([10,30,40,50,100,150],datum.value)>=0?-7:(datum.value%5===0?-5:0)"}}}}}},
     "y":{"field":"act","type":"quantitative","scale":{"domain":[-0.05,1.06],"nice":false,"zero":false},
      "axis":{"orient":"left","values":[0,0.05,0.1,0.15,0.2,0.25,0.3,0.35,0.4,0.45,0.5,0.55,0.6,0.65,0.7,0.75,0.8,0.85,0.9,0.95,1,1.05],"title":null,"grid":false,"domain":true,"tickSize":0,"labelExpr":"datum.value===0?'0':datum.value===0.5?'0.5':datum.value===1?'1':''","labelFontSize":30,"labelPadding":8,"labelOverlap":false,"labelFlush":false,"labelBound":false,"labelBaseline":"middle",
       "encode":{"ticks":{"x2":{"value":{"expr":"indexof([0,0.5,1],datum.value)>=0?7:5"}},"strokeWidth":{"value":{"expr":"indexof([0,0.5,1],datum.value)>=0?2.5:1"}}}}}},
     "color":{"field":"series","type":"nominal","scale":{"domain":["AL"],"range":["#ff00ff"]},
      "legend":{"orient":"none","legendX":318.3,"legendY":153.3,"direction":"horizontal","columns":1,"title":null,"padding":16,"fillColor":"white","strokeColor":"black","labelFontSize":28,"labelColor":"black","labelOffset":38,"symbolOffset":17,"symbolSize":100,"symbolOpacity":1,"symbolStrokeWidth":0}}}},
   {"data":{"name":"aa_actions"},"transform":[{"filter":"false"}],"mark":{"type":"point","filled":true,"size":100,"opacity":1,"strokeWidth":0},
    "encoding":{
     "color":{"field":"series","type":"nominal","scale":{"domain":["AL"],"range":["#ff00ff"]},
      "legend":{"orient":"none","legendX":318.3,"legendY":153.3,"direction":"horizontal","columns":1,"title":null,"padding":16,"fillColor":"white","strokeColor":"black","labelFontSize":28,"labelColor":"black","labelOffset":38,"symbolOffset":17,"symbolSize":100,"symbolOpacity":1,"symbolStrokeWidth":0}},
     "shape":{"field":"series","type":"nominal","scale":{"domain":["AL"],"range":["M-5.3,-0.8L-3.1,0.3L-5.3,1.4ZM-1,-1.4L1.2,-0.3L-1,0.8ZM3.3,-0.6L5.5,0.5L3.3,1.6Z"]},"legend":null}}}
  ]}
]
}
